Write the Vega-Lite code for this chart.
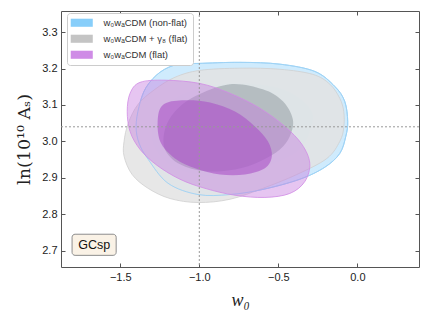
{
  "$schema": "https://vega.github.io/schema/vega-lite/v6.json",
  "width": 358,
  "height": 256,
  "autosize": "none",
  "padding": {"left": 61, "top": 11, "right": 11, "bottom": 55},
  "background": "white",
  "config": {
    "view": {"stroke": "#555", "strokeWidth": 1},
    "axis": {"labelFont": "Liberation Sans", "labelFontSize": 11, "labelColor": "#222", "domainColor": "#555", "tickColor": "#555", "grid": false}
  },
  "datasets": {
    "c": [
      {"c":"b95","i":0,"x":-1.008,"y":3.214},{"c":"b95","i":1,"x":-0.743,"y":3.217},{"c":"b95","i":2,"x":-0.490,"y":3.212},{"c":"b95","i":3,"x":-0.269,"y":3.192},{"c":"b95","i":4,"x":-0.143,"y":3.151},{"c":"b95","i":5,"x":-0.080,"y":3.110},{"c":"b95","i":6,"x":-0.061,"y":3.055},{"c":"b95","i":7,"x":-0.073,"y":3.014},{"c":"b95","i":8,"x":-0.111,"y":2.967},{"c":"b95","i":9,"x":-0.206,"y":2.929},{"c":"b95","i":10,"x":-0.364,"y":2.896},{"c":"b95","i":11,"x":-0.598,"y":2.868},{"c":"b95","i":12,"x":-0.806,"y":2.854},{"c":"b95","i":13,"x":-1.008,"y":2.854},{"c":"b95","i":14,"x":-1.198,"y":2.885},{"c":"b95","i":15,"x":-1.324,"y":2.951},{"c":"b95","i":16,"x":-1.381,"y":2.995},{"c":"b95","i":17,"x":-1.400,"y":3.041},{"c":"b95","i":18,"x":-1.381,"y":3.096},{"c":"b95","i":19,"x":-1.337,"y":3.148},{"c":"b95","i":20,"x":-1.248,"y":3.190},{"c":"b95","i":21,"x":-1.135,"y":3.212},
      {"c":"b68","i":0,"x":-0.288,"y":3.082},{"c":"b68","i":1,"x":-0.301,"y":3.027},{"c":"b68","i":2,"x":-0.364,"y":2.978},{"c":"b68","i":3,"x":-0.490,"y":2.945},{"c":"b68","i":4,"x":-0.680,"y":2.918},{"c":"b68","i":5,"x":-0.869,"y":2.904},{"c":"b68","i":6,"x":-1.059,"y":2.912},{"c":"b68","i":7,"x":-1.217,"y":2.945},{"c":"b68","i":8,"x":-1.299,"y":3.000},{"c":"b68","i":9,"x":-1.280,"y":3.060},{"c":"b68","i":10,"x":-1.185,"y":3.110},{"c":"b68","i":11,"x":-1.027,"y":3.143},{"c":"b68","i":12,"x":-0.806,"y":3.159},{"c":"b68","i":13,"x":-0.585,"y":3.154},{"c":"b68","i":14,"x":-0.414,"y":3.132},
      {"c":"g95","i":0,"x":-0.996,"y":3.195},{"c":"g95","i":1,"x":-0.743,"y":3.201},{"c":"g95","i":2,"x":-0.490,"y":3.198},{"c":"g95","i":3,"x":-0.282,"y":3.184},{"c":"g95","i":4,"x":-0.174,"y":3.157},{"c":"g95","i":5,"x":-0.111,"y":3.118},{"c":"g95","i":6,"x":-0.086,"y":3.082},{"c":"g95","i":7,"x":-0.086,"y":3.038},{"c":"g95","i":8,"x":-0.111,"y":3.000},{"c":"g95","i":9,"x":-0.193,"y":2.953},{"c":"g95","i":10,"x":-0.383,"y":2.909},{"c":"g95","i":11,"x":-0.598,"y":2.871},{"c":"g95","i":12,"x":-0.806,"y":2.841},{"c":"g95","i":13,"x":-1.008,"y":2.832},{"c":"g95","i":14,"x":-1.185,"y":2.843},{"c":"g95","i":15,"x":-1.324,"y":2.871},{"c":"g95","i":16,"x":-1.425,"y":2.909},{"c":"g95","i":17,"x":-1.476,"y":2.959},{"c":"g95","i":18,"x":-1.476,"y":3.000},{"c":"g95","i":19,"x":-1.450,"y":3.049},{"c":"g95","i":20,"x":-1.387,"y":3.102},{"c":"g95","i":21,"x":-1.280,"y":3.143},{"c":"g95","i":22,"x":-1.154,"y":3.176},
      {"c":"g68","i":0,"x":-0.806,"y":3.157},{"c":"g68","i":1,"x":-0.598,"y":3.143},{"c":"g68","i":2,"x":-0.471,"y":3.110},{"c":"g68","i":3,"x":-0.408,"y":3.060},{"c":"g68","i":4,"x":-0.427,"y":3.014},{"c":"g68","i":5,"x":-0.490,"y":2.978},{"c":"g68","i":6,"x":-0.617,"y":2.945},{"c":"g68","i":7,"x":-0.774,"y":2.923},{"c":"g68","i":8,"x":-0.964,"y":2.918},{"c":"g68","i":9,"x":-1.122,"y":2.937},{"c":"g68","i":10,"x":-1.217,"y":2.978},{"c":"g68","i":11,"x":-1.217,"y":3.033},{"c":"g68","i":12,"x":-1.154,"y":3.082},{"c":"g68","i":13,"x":-1.027,"y":3.124},
      {"c":"p95","i":0,"x":-1.456,"y":3.082},{"c":"p95","i":1,"x":-1.438,"y":3.132},{"c":"p95","i":2,"x":-1.375,"y":3.162},{"c":"p95","i":3,"x":-1.217,"y":3.168},{"c":"p95","i":4,"x":-0.996,"y":3.159},{"c":"p95","i":5,"x":-0.806,"y":3.132},{"c":"p95","i":6,"x":-0.617,"y":3.091},{"c":"p95","i":7,"x":-0.459,"y":3.041},{"c":"p95","i":8,"x":-0.351,"y":2.992},{"c":"p95","i":9,"x":-0.301,"y":2.940},{"c":"p95","i":10,"x":-0.332,"y":2.890},{"c":"p95","i":11,"x":-0.427,"y":2.857},{"c":"p95","i":12,"x":-0.585,"y":2.846},{"c":"p95","i":13,"x":-0.774,"y":2.852},{"c":"p95","i":14,"x":-0.964,"y":2.871},{"c":"p95","i":15,"x":-1.122,"y":2.896},{"c":"p95","i":16,"x":-1.267,"y":2.934},{"c":"p95","i":17,"x":-1.375,"y":2.978},{"c":"p95","i":18,"x":-1.438,"y":3.027},
      {"c":"p68","i":0,"x":-1.261,"y":3.069},{"c":"p68","i":1,"x":-1.217,"y":3.104},{"c":"p68","i":2,"x":-1.090,"y":3.113},{"c":"p68","i":3,"x":-0.932,"y":3.107},{"c":"p68","i":4,"x":-0.774,"y":3.082},{"c":"p68","i":5,"x":-0.648,"y":3.041},{"c":"p68","i":6,"x":-0.566,"y":3.000},{"c":"p68","i":7,"x":-0.541,"y":2.959},{"c":"p68","i":8,"x":-0.585,"y":2.926},{"c":"p68","i":9,"x":-0.711,"y":2.909},{"c":"p68","i":10,"x":-0.869,"y":2.909},{"c":"p68","i":11,"x":-1.027,"y":2.926},{"c":"p68","i":12,"x":-1.154,"y":2.953},{"c":"p68","i":13,"x":-1.248,"y":3.000}
    ],
    "leg": [
      {"model": "w₀wₐCDM (non-flat)", "x": -1.0, "y": 3.0},
      {"model": "w₀wₐCDM + γ₈ (flat)", "x": -1.0, "y": 3.0},
      {"model": "w₀wₐCDM (flat)", "x": -1.0, "y": 3.0}
    ]
  },
  "layer": [
    {
      "data": {"name": "c"},
      "transform": [{"filter": "datum.c === 'b95'"}],
      "mark": {"type": "line", "interpolate": "cardinal-closed", "fill": "#87cefa", "fillOpacity": 0.4, "stroke": "#9cd4f7", "strokeWidth": 1},
      "encoding": {
        "x": {"field": "x", "type": "quantitative", "scale": {"domain": [-1.875, 0.39], "nice": false, "zero": false},
              "axis": {"orient": "bottom", "values": [-1.5, -1.0, -0.5, 0.0], "format": ".1f", "tickSize": -4, "labelPadding": 8, "domain": false,
                       "title": "w₀", "titleFont": "Liberation Serif", "titleFontStyle": "italic", "titleFontWeight": "normal", "titleFontSize": 18, "titleColor": "#222", "titlePadding": 9}},
        "y": {"field": "y", "type": "quantitative", "scale": {"domain": [2.655, 3.358], "nice": false, "zero": false},
              "axis": {"orient": "left", "values": [2.7, 2.8, 2.9, 3.0, 3.1, 3.2, 3.3], "format": ".1f", "tickSize": -4, "labelPadding": 8, "domain": false,
                       "title": "ln(10¹⁰ Aₛ)", "titleFont": "DejaVu Serif", "titleFontWeight": "normal", "titleFontSize": 17.5, "titleColor": "#222", "titlePadding": 8}},
        "order": {"field": "i", "type": "quantitative"}
      }
    },
    {
      "data": {"name": "c"},
      "transform": [{"filter": "datum.c === 'b68'"}],
      "mark": {"type": "line", "interpolate": "cardinal-closed", "fill": "#87cefa", "fillOpacity": 0.15, "strokeWidth": 0},
      "encoding": {
        "x": {"field": "x", "type": "quantitative", "axis": null},
        "y": {"field": "y", "type": "quantitative", "axis": null},
        "order": {"field": "i", "type": "quantitative"}
      }
    },
    {
      "data": {"name": "c"},
      "transform": [{"filter": "datum.c === 'g95'"}],
      "mark": {"type": "line", "interpolate": "cardinal-closed", "fill": "#e3e3e3", "fillOpacity": 0.85, "stroke": "#cfcfcf", "strokeWidth": 0.8},
      "encoding": {
        "x": {"field": "x", "type": "quantitative", "axis": null},
        "y": {"field": "y", "type": "quantitative", "axis": null},
        "order": {"field": "i", "type": "quantitative"}
      }
    },
    {
      "data": {"name": "c"},
      "transform": [{"filter": "datum.c === 'g68'"}],
      "mark": {"type": "line", "interpolate": "cardinal-closed", "fill": "#9aa3a8", "fillOpacity": 0.6, "strokeWidth": 0},
      "encoding": {
        "x": {"field": "x", "type": "quantitative", "axis": null},
        "y": {"field": "y", "type": "quantitative", "axis": null},
        "order": {"field": "i", "type": "quantitative"}
      }
    },
    {
      "data": {"name": "c"},
      "transform": [{"filter": "datum.c === 'b95'"}],
      "mark": {"type": "line", "interpolate": "cardinal-closed", "stroke": "#9fd3f5", "strokeWidth": 0.9},
      "encoding": {
        "x": {"field": "x", "type": "quantitative", "axis": null},
        "y": {"field": "y", "type": "quantitative", "axis": null},
        "order": {"field": "i", "type": "quantitative"}
      }
    },
    {
      "data": {"name": "c"},
      "transform": [{"filter": "datum.c === 'p95'"}],
      "mark": {"type": "line", "interpolate": "cardinal-closed", "fill": "#c678de", "fillOpacity": 0.43, "stroke": "#d08be4", "strokeWidth": 0.8},
      "encoding": {
        "x": {"field": "x", "type": "quantitative", "axis": null},
        "y": {"field": "y", "type": "quantitative", "axis": null},
        "order": {"field": "i", "type": "quantitative"}
      }
    },
    {
      "data": {"name": "c"},
      "transform": [{"filter": "datum.c === 'p68'"}],
      "mark": {"type": "line", "interpolate": "cardinal-closed", "fill": "#a950c6", "fillOpacity": 0.58, "strokeWidth": 0},
      "encoding": {
        "x": {"field": "x", "type": "quantitative", "axis": null},
        "y": {"field": "y", "type": "quantitative", "axis": null},
        "order": {"field": "i", "type": "quantitative"}
      }
    },
    {
      "data": {"values": [{"v": -1.0}]},
      "mark": {"type": "rule", "color": "#999", "strokeWidth": 1, "strokeDash": [2, 2]},
      "encoding": {"x": {"field": "v", "type": "quantitative", "axis": null}}
    },
    {
      "data": {"values": [{"v": 3.04}]},
      "mark": {"type": "rule", "color": "#999", "strokeWidth": 1, "strokeDash": [2, 2]},
      "encoding": {"y": {"field": "v", "type": "quantitative", "axis": null}}
    },
    {
      "data": {"values": [{"x": -1.805, "x2": -1.526, "y": 2.687, "y2": 2.745}]},
      "mark": {"type": "rect", "fill": "#faf2e6", "stroke": "#8c8c8c", "strokeWidth": 1, "cornerRadius": 3},
      "encoding": {
        "x": {"field": "x", "type": "quantitative", "axis": null},
        "x2": {"field": "x2"},
        "y": {"field": "y", "type": "quantitative", "axis": null},
        "y2": {"field": "y2"}
      }
    },
    {
      "data": {"values": [{"x": -1.665, "y": 2.716, "label": "GCsp"}]},
      "mark": {"type": "text", "font": "Liberation Sans", "fontSize": 12.5, "color": "#111", "align": "center", "baseline": "middle"},
      "encoding": {
        "x": {"field": "x", "type": "quantitative", "axis": null},
        "y": {"field": "y", "type": "quantitative", "axis": null},
        "text": {"field": "label"}
      }
    },
    {
      "data": {"name": "leg"},
      "mark": {"type": "square", "opacity": 0},
      "encoding": {
        "x": {"field": "x", "type": "quantitative", "axis": {"orient": "top", "values": [-1.5, -1.0, -0.5, 0.0], "labels": false, "tickSize": -4, "domain": false, "title": null}},
        "y": {"field": "y", "type": "quantitative", "axis": {"orient": "right", "values": [2.7, 2.8, 2.9, 3.0, 3.1, 3.2, 3.3], "labels": false, "tickSize": -4, "domain": false, "title": null}},
        "fill": {"field": "model", "type": "nominal",
                 "scale": {"domain": ["w₀wₐCDM (non-flat)", "w₀wₐCDM + γ₈ (flat)", "w₀wₐCDM (flat)"], "range": ["#87cefa", "#c4c4c4", "#cf8ce6"]},
                 "legend": {"title": null, "orient": "none", "legendX": 6, "legendY": 2, "padding": 5, "fillColor": "white", "strokeColor": "#cccccc", "cornerRadius": 3,
                            "symbolType": "M-3,-1.1H3V1.1H-3Z", "symbolSize": 54, "symbolOpacity": 1, "symbolStrokeWidth": 0, "symbolOffset": 5,
                            "labelOffset": 17, "labelFont": "Liberation Sans", "labelFontSize": 9.5, "labelColor": "#333", "rowPadding": 5}}
      }
    }
  ]
}
